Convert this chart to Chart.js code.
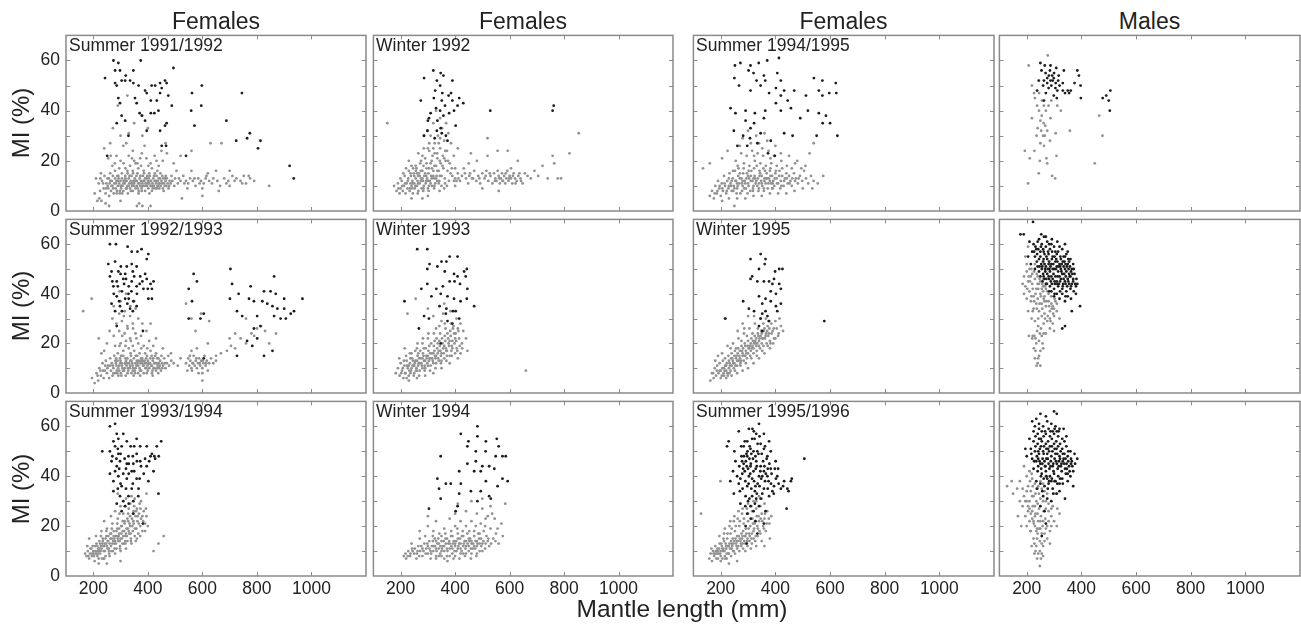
<!DOCTYPE html>
<html>
<head>
<meta charset="utf-8">
<script src="https://cdn.jsdelivr.net/npm/chart.js@4.4.1/dist/chart.umd.min.js"></script>
<style>
  body { margin: 0; background: #fff; }
  #fig { position: relative; width: 1301px; height: 627px; overflow: hidden;
         font-family: "Liberation Sans", Arial, sans-serif; color: #222; }
  #fig canvas { position: absolute; }
  .txt { position: absolute; white-space: nowrap; line-height: 1; }
</style>
</head>
<body>
<div id="fig"></div>
<script>
'use strict';

/* ─── Data (mantle length mm, MI %) ─── */
const columnTitles = ['Females', 'Females', 'Females', 'Males'];
const panelLabels = [
  'Summer 1991/1992', 'Winter 1992', 'Summer 1994/1995', '',
  'Summer 1992/1993', 'Winter 1993', 'Winter 1995', '',
  'Summer 1993/1994', 'Winter 1994', 'Summer 1995/1996', ''
];
const xTicks = [200, 400, 600, 800, 1000];
const yTicks = [0, 20, 40, 60];
const yMinorTicks = [10, 20, 30, 40, 50, 60];

const s9192Black = [[243,53],[274,60],[280,56],[292,59],[298,56],[280,51],[286,50],[304,52],[317,52],[319,54],[347,56],[292,45],[298,43],[304,38],[286,35],[317,36],[329,30],[353,45],[359,43],[370,39],[378,38],[335,52],[347,51],[374,60],[366,50],[390,48],[396,47],[414,50],[427,50],[445,51],[451,49],[411,44],[433,44],[439,40],[424,39],[445,47],[463,52],[469,51],[475,46],[488,42],[494,57],[469,35],[463,34],[451,26],[445,32],[390,36],[396,32],[411,39],[562,47],[559,40],[571,34],[598,50],[596,42],[688,36],[724,28],[745,47],[764,29],[774,31],[804,25],[813,28],[920,18],[935,13],[251,22],[540,22],[467,26]];
const s9192Gray = [[232,12],[238,9],[241,14],[245,7],[248,11],[252,13],[255,9],[258,6],[260,11],[262,15],[265,8],[268,12],[270,10],[272,14],[275,7],[277,11],[280,13],[282,9],[285,12],[287,8],[290,10],[292,14],[295,11],[297,7],[300,12],[302,9],[305,13],[307,10],[310,8],[312,12],[315,11],[317,14],[320,9],[322,12],[325,10],[327,7],[330,13],[332,11],[335,9],[337,12],[340,14],[342,10],[345,8],[347,12],[350,11],[352,13],[355,9],[357,12],[360,10],[362,15],[365,11],[367,8],[370,13],[372,10],[375,12],[377,9],[380,11],[382,14],[385,10],[387,12],[390,8],[392,11],[395,13],[397,10],[400,12],[402,9],[405,11],[407,14],[410,10],[412,12],[415,8],[417,11],[420,13],[422,10],[425,12],[427,9],[430,11],[432,14],[435,10],[437,12],[440,11],[442,9],[445,13],[447,10],[450,12],[452,11],[455,9],[457,13],[460,11],[462,10],[465,12],[468,10],[470,13],[473,11],[476,9],[480,12],[484,11],[290,12],[300,10],[310,11],[320,12],[330,10],[340,11],[350,10],[360,12],[370,11],[380,10],[390,13],[400,11],[410,12],[420,10],[430,12],[440,13],[305,15],[325,16],[345,16],[365,17],[385,16],[405,15],[280,16],[295,17],[335,18],[355,19],[375,18],[415,17],[435,16],[490,12],[500,13],[510,11],[520,12],[530,14],[540,12],[548,11],[555,13],[565,12],[575,10],[585,13],[595,12],[605,11],[615,14],[625,12],[640,13],[655,12],[665,10],[680,13],[695,12],[710,14],[725,13],[740,12],[752,14],[760,11],[775,13],[790,12],[545,9],[600,9],[660,8],[700,10],[845,10],[505,16],[560,16],[620,15],[650,16],[700,16],[240,25],[255,21],[262,27],[270,18],[285,22],[300,20],[310,26],[318,17],[330,22],[345,24],[350,20],[362,19],[378,23],[395,21],[410,19],[425,22],[440,18],[455,20],[465,27],[380,30],[330,31],[300,30],[272,33],[520,22],[560,24],[630,27],[670,27],[470,23],[495,19],[350,35],[400,33],[380,38],[290,42],[325,46],[215,4],[222,5],[230,4],[245,3],[258,2],[300,4],[360,2],[368,3],[380,2],[410,2],[600,6],[525,5],[210,13],[220,11],[225,8],[205,7],[228,15],[253,10],[263,12],[273,9],[283,11],[293,13],[303,10],[313,12],[323,9],[333,14],[343,11],[353,12],[363,9],[373,14],[383,12],[393,10],[403,13],[413,10],[423,14],[433,9],[443,11],[453,14],[463,13],[478,10],[257,13],[267,10],[288,14],[298,8],[318,13],[338,8],[358,14],[378,8],[398,14],[418,9],[438,10],[458,8],[247,9],[236,11],[226,13],[286,7],[306,7],[326,15],[346,15],[366,7],[386,15],[406,7],[426,15],[446,15],[466,14],[487,14],[497,10],[514,13],[534,11],[571,13],[590,11],[612,13],[635,11],[688,11],[718,12],[746,11],[770,14],[279,19],[311,19],[342,21],[372,21],[402,18],[432,20],[264,22],[321,27],[388,26],[450,24]];

const w92Black = [[320,56],[347,55],[357,54],[286,53],[333,52],[390,52],[274,44],[327,48],[345,50],[376,46],[385,47],[415,45],[430,43],[322,45],[351,44],[363,42],[330,41],[345,40],[310,39],[396,40],[378,39],[357,38],[300,36],[335,36],[402,34],[347,33],[298,32],[351,31],[286,30],[325,29],[372,28],[529,40],[758,40],[762,42],[353,47],[304,37],[333,32],[366,30],[390,44],[409,42]];
const w92Gray = [[176,10],[185,8],[190,11],[196,7],[200,9],[204,12],[208,8],[212,10],[215,14],[218,7],[222,11],[225,9],[228,13],[230,16],[233,8],[236,11],[238,14],[240,10],[243,12],[245,7],[248,15],[250,11],[252,9],[255,13],[258,17],[260,10],[262,12],[265,8],[267,15],[270,11],[272,19],[275,13],[277,9],[280,16],[282,12],[285,10],[287,14],[290,21],[292,11],[295,17],[297,13],[300,9],[302,15],[305,24],[307,12],[310,19],[312,14],[315,10],[317,22],[320,16],[322,13],[325,27],[327,11],[330,18],[332,14],[335,21],[337,30],[340,16],[342,12],[345,25],[347,19],[350,14],[352,33],[355,22],[357,17],[360,28],[362,13],[365,20],[367,35],[370,24],[372,16],[375,31],[377,12],[380,19],[385,27],[390,14],[395,22],[400,17],[405,12],[410,25],[250,14],[260,15],[270,14],[280,13],[290,15],[300,12],[310,11],[320,14],[330,13],[340,11],[255,18],[275,20],[295,19],[315,17],[335,16],[265,23],[285,25],[305,27],[325,23],[345,29],[300,32],[320,35],[345,37],[330,40],[310,30],[240,18],[230,20],[220,17],[210,15],[285,30],[350,10],[360,9],[370,10],[300,6],[280,5],[400,10],[240,5],[400,13],[410,15],[418,12],[425,14],[432,17],[440,13],[448,11],[455,15],[462,13],[470,16],[478,12],[485,14],[492,11],[500,15],[508,13],[515,16],[522,12],[530,14],[537,11],[543,15],[548,13],[552,12],[556,16],[560,14],[564,11],[568,13],[572,15],[576,12],[580,14],[584,11],[588,13],[592,16],[596,12],[600,14],[605,13],[610,11],[615,15],[620,13],[626,12],[632,14],[640,13],[648,11],[656,15],[666,14],[678,13],[691,16],[705,14],[721,18],[740,13],[758,22],[764,19],[777,13],[789,13],[820,23],[854,31],[458,23],[519,22],[556,24],[593,24],[630,20],[605,17],[642,12],[480,20],[500,9],[560,8],[450,19],[519,29],[151,35],[226,12],[234,9],[244,11],[254,10],[264,11],[274,12],[284,9],[294,12],[304,10],[314,13],[324,10],[334,12],[344,14],[264,14],[274,16],[284,18],[294,14],[304,17],[314,20],[324,18],[334,23],[344,20],[354,18],[364,24],[256,16],[246,17],[236,15],[216,11],[206,10],[199,13],[192,9],[280,22],[300,25],[320,25],[340,27],[360,21],[374,20],[388,17],[243,9],[263,7],[283,8],[303,8],[323,9],[343,8],[363,11],[383,15],[396,12],[412,13],[436,15],[452,14],[466,13],[489,13],[512,14],[527,15],[546,12],[562,13],[574,12],[586,15],[598,13],[612,14],[622,11],[636,15]];

const s9495Black = [[272,59],[252,58],[309,58],[339,59],[370,60],[413,61],[302,56],[320,55],[358,54],[331,52],[363,52],[407,55],[420,52],[402,49],[432,48],[250,53],[267,50],[309,48],[346,50],[377,47],[420,46],[445,44],[469,48],[512,46],[541,53],[572,52],[621,51],[559,48],[572,46],[597,47],[623,47],[519,40],[559,39],[585,38],[573,35],[600,35],[627,30],[236,41],[254,39],[291,40],[325,39],[363,40],[420,40],[291,36],[322,35],[358,37],[309,33],[346,31],[248,32],[282,30],[307,29],[261,26],[334,27],[383,28],[432,31],[463,30],[491,37],[551,30],[373,23],[398,22],[297,26],[402,43],[457,41]];
const s9495Gray = [[160,6],[168,8],[175,5],[180,10],[186,7],[190,12],[195,9],[200,6],[204,11],[208,8],[212,14],[216,10],[220,7],[224,12],[228,9],[232,15],[236,11],[240,8],[244,13],[248,10],[252,16],[256,12],[260,9],[264,14],[268,11],[272,7],[276,13],[280,10],[284,17],[288,12],[292,9],[296,15],[300,11],[304,13],[308,8],[312,16],[316,12],[320,10],[324,14],[328,11],[332,18],[336,13],[340,9],[344,15],[348,12],[352,10],[356,17],[360,13],[364,11],[368,15],[372,9],[376,13],[380,16],[384,11],[388,14],[392,12],[396,10],[400,15],[405,13],[410,11],[415,16],[420,12],[425,14],[430,10],[435,13],[440,15],[445,11],[450,14],[455,12],[460,10],[468,15],[475,13],[482,11],[490,14],[498,12],[505,16],[512,13],[520,11],[530,14],[540,12],[555,11],[575,14],[535,9],[500,9],[470,8],[440,7],[410,7],[380,7],[350,6],[320,6],[290,5],[260,5],[230,5],[205,4],[250,2],[230,10],[240,12],[250,9],[260,11],[270,13],[280,12],[290,11],[300,14],[310,12],[320,13],[330,12],[340,11],[350,14],[360,12],[370,13],[380,12],[390,11],[245,16],[265,17],[285,19],[305,18],[325,20],[345,19],[365,18],[385,19],[405,18],[425,17],[295,22],[315,24],[335,23],[355,22],[375,24],[395,22],[255,20],[275,23],[310,27],[340,27],[370,28],[400,26],[420,23],[450,22],[480,20],[510,18],[525,23],[540,27],[360,31],[330,30],[300,32],[280,29],[270,26],[135,17],[160,19],[205,21],[225,24],[460,17],[495,17],[206,9],[214,11],[222,8],[230,13],[238,10],[246,8],[254,12],[262,10],[270,15],[278,11],[286,9],[294,13],[302,10],[310,14],[318,9],[326,13],[334,10],[342,14],[350,11],[358,9],[366,13],[374,11],[382,14],[390,9],[398,13],[406,11],[414,14],[422,10],[432,12],[442,13],[452,11],[462,13],[472,12],[485,13],[262,18],[282,15],[302,16],[322,17],[342,16],[362,16],[382,17],[402,16],[422,20],[442,18],[472,19],[322,22],[352,25],[382,21],[258,7],[278,8],[298,7],[318,8],[338,8],[358,8],[388,9],[418,9],[196,10],[188,8],[178,7]];

const m1Black = [[250,59],[266,58],[287,58],[308,57],[336,56],[269,55],[293,54],[263,52],[281,54],[299,53],[317,54],[244,52],[275,51],[287,52],[306,51],[332,51],[391,54],[397,50],[312,48],[332,48],[361,48],[355,47],[238,48],[299,46],[398,45],[478,45],[491,46],[506,48],[500,44],[504,40],[263,44],[290,50],[280,49],[300,55],[320,50],[285,56],[275,53],[305,49],[260,50],[315,52],[340,47],[350,48],[270,47],[310,45],[295,52],[375,51],[385,56],[254,56]];
const m1Gray = [[207,58],[219,50],[227,47],[256,44],[238,42],[263,42],[219,37],[250,36],[287,37],[268,34],[325,40],[253,32],[266,30],[275,32],[306,31],[358,32],[312,42],[193,24],[228,24],[211,21],[248,20],[272,21],[309,22],[244,15],[293,14],[304,13],[205,11],[449,19],[477,30],[465,38],[263,26],[260,30],[275,19],[277,62],[245,47],[255,38],[230,45],[290,44],[270,40],[240,33],[250,27],[285,28],[262,35],[245,40],[280,42],[236,30]];

const s9293Black = [[261,60],[283,60],[326,59],[341,57],[362,57],[377,58],[396,54],[402,56],[255,52],[280,53],[301,51],[323,51],[341,52],[359,51],[267,49],[292,49],[317,48],[345,49],[372,47],[396,46],[421,45],[261,47],[286,45],[313,44],[341,45],[359,43],[384,42],[415,42],[274,43],[305,41],[329,40],[286,39],[317,38],[347,37],[267,36],[298,35],[335,34],[280,33],[359,35],[286,27],[382,25],[402,38],[415,38],[568,48],[580,45],[550,42],[562,37],[593,30],[605,32],[550,30],[703,50],[709,44],[733,40],[701,38],[777,43],[771,38],[789,37],[826,41],[850,41],[863,47],[869,40],[820,37],[838,36],[857,35],[875,34],[900,38],[900,34],[924,32],[936,33],[967,38],[863,31],[887,30],[906,30],[801,31],[813,27],[789,26],[764,21],[727,33],[746,31],[783,19],[826,15],[857,17],[727,15],[801,22],[605,14],[270,45],[290,43],[310,46],[330,43],[350,47],[370,44],[390,48],[410,44],[300,48],[320,46],[340,41],[360,40],[380,45],[400,42],[275,40],[295,37],[325,36],[345,33],[305,33],[330,38]];
const s9293Gray = [[195,6],[205,4],[212,8],[218,5],[222,10],[228,7],[234,12],[238,6],[242,9],[246,13],[250,8],[254,11],[258,6],[262,14],[265,9],[268,12],[271,7],[274,10],[277,15],[280,8],[283,12],[286,9],[289,13],[292,7],[295,11],[298,14],[301,8],[304,12],[307,10],[310,15],[313,9],[316,12],[319,7],[322,11],[325,14],[328,9],[331,12],[334,10],[337,16],[340,8],[343,12],[346,10],[349,14],[352,9],[355,12],[358,11],[361,15],[364,8],[367,13],[370,10],[373,12],[376,9],[379,14],[382,11],[385,8],[388,13],[391,10],[394,12],[397,15],[400,9],[403,12],[406,10],[409,14],[412,11],[415,8],[418,13],[421,10],[424,12],[427,15],[430,9],[433,12],[436,11],[439,14],[442,10],[445,13],[448,9],[452,12],[456,11],[460,14],[465,10],[470,12],[478,11],[486,13],[495,12],[285,11],[295,9],[305,11],[315,10],[325,12],[335,11],[345,9],[355,10],[365,11],[375,13],[385,11],[395,10],[405,12],[415,11],[425,10],[300,13],[320,13],[340,13],[360,13],[380,12],[400,13],[420,14],[440,12],[290,16],[310,17],[330,18],[350,17],[370,16],[390,16],[410,17],[430,16],[280,19],[300,20],[320,21],[345,19],[365,20],[385,19],[405,21],[275,23],[295,25],[315,24],[335,22],[355,24],[375,23],[395,25],[285,28],[305,29],[325,27],[345,28],[365,30],[380,28],[295,32],[315,33],[335,31],[355,34],[275,35],[300,37],[270,30],[260,25],[250,20],[240,17],[230,16],[163,33],[194,38],[220,22],[350,37],[320,40],[410,28],[430,22],[455,18],[475,15],[485,16],[510,11],[520,14],[540,12],[545,9],[548,14],[552,11],[556,13],[560,10],[564,12],[568,15],[572,11],[576,13],[580,10],[584,12],[588,14],[592,11],[596,13],[600,10],[604,12],[608,15],[612,11],[616,13],[620,9],[625,12],[632,14],[640,12],[650,13],[560,17],[580,18],[600,8],[600,5],[620,20],[650,15],[668,16],[690,17],[705,19],[720,18],[740,22],[760,20],[780,24],[790,23],[800,26],[815,27],[830,25],[760,30],[720,24],[700,22],[845,20],[870,24],[560,30],[575,25],[540,36],[595,32],[625,29],[272,11],[281,13],[291,10],[299,12],[309,9],[318,12],[327,10],[336,13],[344,11],[353,8],[362,12],[371,9],[381,13],[390,12],[399,11],[408,12],[417,9],[426,12],[435,10],[444,11],[453,10],[462,12],[274,8],[288,8],[303,7],[326,8],[348,7],[372,7],[396,8],[418,7],[438,8],[284,14],[302,15],[318,14],[338,15],[356,15],[376,14],[394,14],[414,15],[434,14],[450,15],[262,11],[252,10],[244,11],[236,9],[226,9],[216,7],[296,19],[318,19],[338,21],[358,22],[376,18],[398,18],[420,19],[306,23],[326,26],[346,26],[312,31],[336,35],[296,41],[554,15],[566,12],[578,14],[590,12],[602,13],[614,12],[562,9],[586,8]];

const w93Black = [[261,58],[298,58],[306,52],[335,51],[350,53],[368,53],[380,55],[409,55],[362,49],[396,48],[409,47],[433,49],[443,50],[439,47],[298,44],[331,42],[355,43],[380,45],[398,45],[418,44],[445,42],[276,42],[313,39],[347,40],[372,39],[396,38],[420,37],[443,38],[214,37],[343,35],[368,34],[392,33],[402,33],[470,35],[286,31],[304,30],[366,32],[390,28],[267,26],[372,29],[415,30],[298,50],[347,20]];
const w93Gray = [[182,8],[190,10],[196,7],[200,12],[205,9],[210,6],[214,11],[218,8],[222,13],[226,10],[230,7],[234,12],[238,9],[242,14],[246,11],[250,8],[254,13],[258,10],[262,15],[266,12],[270,9],[274,14],[278,11],[282,16],[286,13],[290,10],[294,15],[298,12],[302,17],[306,14],[310,11],[314,16],[318,13],[322,19],[326,15],[330,12],[334,18],[338,14],[342,21],[346,17],[350,13],[354,20],[358,16],[362,23],[366,18],[370,15],[374,22],[378,19],[382,25],[386,17],[390,21],[394,27],[398,20],[402,24],[406,18],[410,26],[415,22],[420,28],[425,20],[430,25],[440,22],[445,17],[240,10],[250,11],[260,9],[270,12],[280,10],[290,13],[300,11],[310,14],[320,12],[330,15],[340,13],[350,16],[360,14],[370,17],[380,15],[390,18],[400,16],[260,13],[280,14],[300,15],[320,16],[340,17],[360,19],[380,21],[400,22],[230,11],[245,13],[265,16],[285,18],[305,19],[325,21],[345,24],[365,26],[385,28],[405,30],[330,26],[350,29],[300,22],[280,20],[260,18],[240,16],[220,15],[215,18],[195,14],[230,5],[260,6],[290,7],[320,8],[350,10],[380,12],[410,14],[420,16],[225,32],[255,38],[300,34],[320,31],[360,36],[383,33],[660,9],[336,20],[356,32],[208,10],[216,8],[224,11],[232,9],[236,14],[244,11],[252,12],[256,9],[264,11],[268,14],[276,12],[284,15],[288,11],[296,14],[304,13],[308,16],[316,14],[324,17],[328,14],[336,16],[344,19],[348,15],[356,18],[364,21],[368,17],[376,20],[384,23],[388,19],[396,24],[404,21],[412,25],[417,19],[272,17],[292,18],[312,20],[332,22],[352,22],[372,24],[392,26],[262,20],[282,22],[302,24],[322,24],[342,27],[362,28],[248,7],[268,7],[288,9],[308,9],[328,10],[348,12],[368,13],[388,15],[408,17],[426,18],[234,16],[254,17],[236,8],[222,6],[202,8],[212,13]];

const w95Black = [[346,56],[309,54],[364,54],[361,52],[340,50],[399,49],[414,50],[426,50],[315,47],[334,45],[358,45],[377,45],[395,46],[389,44],[414,44],[420,42],[383,41],[402,40],[340,39],[364,38],[352,36],[383,37],[402,35],[420,36],[282,37],[303,34],[322,33],[352,32],[371,31],[346,30],[377,29],[217,30],[579,29],[364,33],[340,27],[352,25],[309,46],[407,33]];
const w95Gray = [[162,5],[168,8],[174,6],[178,10],[183,7],[187,11],[192,8],[196,12],[200,9],[204,7],[208,13],[212,10],[216,14],[220,11],[224,8],[228,15],[232,12],[236,9],[240,16],[244,13],[248,10],[252,17],[256,14],[260,11],[264,18],[268,15],[272,12],[276,19],[280,16],[284,13],[288,20],[292,17],[296,14],[300,21],[304,18],[308,15],[312,22],[316,19],[320,16],[324,23],[328,20],[332,17],[336,24],[340,21],[344,18],[348,25],[352,22],[356,19],[360,26],[364,23],[368,20],[372,27],[376,24],[380,21],[385,28],[390,25],[395,22],[400,29],[405,26],[410,23],[415,30],[420,27],[428,25],[210,8],[220,9],[230,10],[240,11],[250,12],[260,13],[270,14],[280,15],[290,15],[300,16],[310,17],[320,18],[330,19],[340,19],[350,20],[230,13],[250,15],[270,17],[290,19],[310,20],[330,22],[350,24],[370,25],[200,6],[220,6],[240,7],[260,8],[280,9],[300,10],[320,12],[340,14],[360,16],[380,18],[400,22],[245,20],[265,22],[285,24],[305,26],[325,28],[345,30],[365,30],[300,31],[280,28],[262,25],[215,30],[190,15],[180,13],[205,16],[225,19],[206,10],[214,9],[222,12],[226,7],[234,11],[238,14],[246,12],[254,11],[258,15],[266,13],[274,13],[278,17],[286,15],[294,16],[298,19],[306,19],[314,18],[318,21],[326,21],[334,20],[338,23],[346,23],[354,22],[358,25],[366,24],[374,23],[378,26],[386,24],[394,26],[242,14],[262,16],[282,18],[302,18],[322,20],[342,22],[362,22],[382,20],[212,7],[232,8],[252,9],[272,11],[292,12],[312,14],[332,15],[352,17],[372,19],[392,20],[412,24],[186,9],[196,9],[216,11],[236,18],[256,18],[276,21],[296,23],[316,24],[336,26],[356,28],[374,29],[322,31],[286,26],[172,8]];

const m2Black = [[177,64],[189,64],[223,69],[253,64],[263,63],[210,61],[225,60],[240,61],[255,60],[270,59],[285,58],[300,59],[315,57],[330,58],[345,56],[235,58],[250,57],[265,56],[280,56],[295,55],[310,56],[325,54],[340,55],[355,53],[230,55],[245,54],[260,53],[275,54],[290,52],[305,53],[320,52],[335,51],[350,52],[365,50],[240,51],[255,50],[270,51],[285,49],[300,50],[315,49],[330,48],[345,49],[360,47],[375,48],[250,47],[265,46],[280,47],[295,46],[310,45],[325,46],[340,45],[355,44],[370,45],[385,44],[270,44],[285,43],[300,42],[315,43],[330,42],[345,41],[360,42],[380,40],[300,39],[320,38],[340,37],[395,35],[365,33],[340,27],[330,26],[220,57],[215,52],[205,55],[260,58],[275,61],[290,60],[245,62],[305,57],[320,59],[335,55],[350,57],[360,54],[370,52],[250,55],[265,52],[280,52],[295,50],[310,51],[325,50],[340,50],[355,48],[370,46],[230,50],[245,49],[260,48],[275,48],[290,47],[305,47],[320,47],[335,46],[350,46],[365,44],[380,43],[258,45],[273,44],[288,45],[303,44],[318,44],[333,44],[348,43],[290,41],[310,40],[330,40],[350,39],[262,54],[278,57],[293,57],[308,54],[323,55],[338,53],[353,50],[268,49],[283,50],[298,48],[313,47],[328,52],[343,47],[358,51],[238,56],[253,52],[232,59],[270,63],[292,62],[340,60],[262,57],[272,55],[282,53],[292,54],[302,55],[312,53],[322,51],[332,53],[342,52],[352,54],[362,49],[372,50],[382,46],[257,51],[267,50],[277,50],[287,51],[297,52],[307,50],[317,51],[327,49],[337,48],[347,51],[357,47],[367,48],[377,44],[262,47],[272,46],[282,46],[292,44],[302,45],[312,44],[322,45],[332,43],[342,44],[352,45],[362,43],[372,41],[242,58],[252,59],[282,60],[312,61],[227,57],[237,53],[247,51],[282,41],[302,40],[322,41],[342,39],[362,38]];
const m2Gray = [[190,47],[195,43],[200,49],[205,45],[210,41],[215,47],[220,44],[225,39],[230,46],[235,42],[240,38],[245,44],[250,40],[255,36],[260,43],[265,39],[270,35],[275,41],[280,37],[285,33],[290,39],[295,35],[300,31],[305,37],[310,33],[200,52],[210,50],[220,48],[230,52],[240,47],[250,45],[260,41],[270,42],[280,40],[290,36],[215,37],[225,34],[235,36],[245,33],[255,31],[265,32],[275,29],[285,30],[295,28],[205,33],[218,30],[230,29],[242,27],[252,26],[262,24],[220,22],[235,20],[245,21],[250,17],[260,18],[230,14],[240,12],[250,11],[228,23],[208,23],[222,23],[238,25],[255,23],[270,24],[285,26],[300,25],[320,30],[245,15],[232,17],[310,36],[190,40],[200,38],[185,44],[255,42],[195,55],[205,59],[265,37],[300,34],[240,44],[260,46],[275,44],[212,45],[222,42],[232,40],[242,42],[252,39],[262,38],[272,37],[282,35],[292,34],[302,38],[217,39],[227,37],[237,34],[247,36],[257,34],[267,30],[277,31],[287,29],[297,32],[207,47],[227,49],[247,46],[257,44],[267,43],[217,50],[237,48],[202,42],[222,33],[242,30],[262,28],[248,24],[232,22],[258,20],[226,18],[242,14],[236,11]];

const s9394Black = [[261,60],[280,61],[286,57],[292,55],[310,57],[274,54],[280,52],[304,52],[323,54],[337,52],[359,55],[372,52],[396,52],[415,49],[433,52],[449,54],[427,47],[424,48],[233,50],[261,50],[292,49],[329,48],[359,49],[267,46],[298,46],[323,45],[347,45],[372,46],[286,44],[320,43],[341,42],[396,44],[421,42],[261,41],[292,40],[323,39],[359,39],[402,38],[274,38],[304,36],[341,35],[366,35],[274,34],[298,32],[329,32],[439,33],[286,29],[317,28],[347,30],[304,26],[382,21],[347,25],[270,48],[285,47],[300,49],[315,47],[330,45],[345,48],[360,46],[375,44],[390,47],[405,46],[280,42],[295,43],[310,41],[330,41],[350,42],[370,39],[385,41],[300,37],[320,35],[345,37],[365,32],[290,35],[310,30],[330,29],[410,48],[440,48],[290,51],[350,52]];
const s9394Gray = [[170,9],[175,8],[180,10],[185,7],[190,11],[195,8],[198,12],[202,9],[205,6],[208,10],[212,13],[215,8],[218,11],[222,14],[225,9],[228,12],[232,7],[235,15],[238,10],[242,13],[245,8],[248,16],[252,11],[255,14],[258,9],[262,17],[265,12],[268,15],[272,10],[275,18],[278,13],[282,16],[285,11],[288,19],[292,14],[295,17],[298,12],[302,20],[305,15],[308,18],[312,13],[315,21],[318,16],[322,19],[325,14],[328,22],[332,17],[335,20],[338,15],[342,23],[345,18],[348,21],[352,16],[355,24],[358,19],[362,22],[365,17],[368,25],[372,20],[375,23],[380,18],[385,26],[390,21],[395,24],[400,20],[200,10],[210,9],[220,10],[230,11],[240,12],[250,12],[260,13],[270,13],[280,14],[290,15],[300,15],[310,16],[320,17],[330,18],[215,12],[225,13],[235,14],[245,15],[255,16],[265,17],[275,16],[285,18],[295,19],[305,20],[315,22],[325,23],[335,24],[345,25],[220,7],[240,7],[260,8],[280,9],[300,10],[320,11],[340,13],[360,15],[250,19],[270,21],[290,23],[310,25],[330,27],[350,28],[370,29],[300,28],[320,31],[340,32],[280,26],[240,22],[230,18],[210,16],[185,15],[220,5],[250,5],[300,6],[458,16],[439,13],[421,10],[375,30],[395,33],[290,33],[265,24],[360,27],[380,24],[203,8],[207,12],[213,10],[217,9],[223,11],[227,10],[233,13],[237,12],[243,10],[247,13],[253,14],[257,11],[263,15],[267,10],[273,14],[277,15],[283,13],[287,16],[293,16],[297,14],[303,17],[307,13],[313,18],[317,14],[323,16],[327,19],[333,21],[337,17],[343,20],[347,22],[353,19],[357,26],[363,24],[367,21],[373,27],[383,22],[393,27],[196,9],[188,9],[182,8],[193,11],[178,12],[228,16],[248,18],[268,19],[288,21],[308,22],[328,25],[348,26],[238,7],[258,10],[278,11],[298,11],[318,13],[338,14],[356,14],[372,16],[390,18],[296,25],[316,28],[336,29],[352,31]];

const w94Black = [[482,60],[421,57],[449,54],[482,56],[513,54],[553,55],[560,52],[347,48],[445,52],[476,50],[512,50],[549,48],[574,48],[586,48],[445,45],[476,46],[500,44],[525,44],[415,42],[470,42],[494,42],[544,43],[574,39],[593,38],[335,39],[366,37],[384,37],[421,37],[513,38],[341,35],[458,34],[494,34],[525,32],[556,36],[347,31],[415,33],[304,27],[409,28],[402,26],[482,30],[531,31]];
const w94Gray = [[212,8],[220,7],[228,10],[235,8],[242,11],[250,9],[258,7],[265,12],[272,10],[280,8],[287,13],[294,11],[300,9],[305,14],[310,7],[315,12],[320,10],[325,15],[330,8],[335,13],[340,11],[345,9],[350,14],[355,12],[360,10],[365,15],[370,8],[375,13],[380,11],[385,16],[390,9],[395,14],[400,12],[405,10],[410,15],[415,13],[420,11],[425,16],[430,9],[435,14],[440,12],[445,17],[450,10],[455,15],[460,13],[465,11],[470,16],[475,14],[480,12],[485,17],[490,10],[495,15],[500,13],[505,18],[510,11],[515,16],[520,14],[525,12],[530,19],[540,15],[550,17],[560,13],[570,21],[575,16],[310,10],[320,12],[330,11],[340,13],[350,10],[360,12],[370,11],[380,13],[390,11],[400,13],[410,11],[420,13],[430,12],[440,14],[450,12],[460,14],[470,12],[480,14],[490,13],[330,14],[350,16],[370,15],[390,16],[410,17],[430,16],[450,15],[470,18],[490,17],[510,20],[340,8],[360,7],[380,8],[400,8],[420,9],[440,9],[460,9],[480,9],[500,10],[300,12],[280,11],[260,9],[240,13],[270,15],[290,16],[300,20],[320,18],[360,19],[400,20],[420,22],[440,20],[460,22],[480,25],[500,27],[520,24],[530,28],[545,23],[460,30],[440,26],[400,25],[380,23],[330,22],[300,24],[270,18],[584,29],[410,29],[500,31],[252,11],[262,10],[268,8],[276,12],[284,10],[292,9],[298,13],[306,11],[312,9],[318,14],[326,12],[332,10],[338,15],[346,12],[352,11],[358,14],[366,13],[372,10],[378,14],[386,12],[392,13],[398,10],[404,14],[412,12],[418,15],[424,10],[432,13],[438,11],[446,13],[452,14],[458,11],[466,13],[474,11],[482,13],[488,15],[496,12],[504,14],[512,13],[522,15],[532,13],[548,14],[318,16],[342,17],[364,17],[386,18],[408,19],[428,18],[452,18],[476,20],[494,21],[512,23],[536,25],[556,19],[330,7],[350,8],[372,6],[394,7],[416,7],[436,8],[458,7],[478,8],[244,10],[236,9],[226,8],[218,9]];

const s9596Black = [[340,61],[303,59],[321,58],[266,58],[358,57],[229,54],[297,54],[315,55],[346,53],[377,54],[223,52],[284,52],[309,51],[334,50],[358,51],[383,50],[294,49],[297,48],[327,48],[371,48],[401,46],[506,47],[254,46],[284,45],[309,44],[346,44],[383,43],[245,42],[279,41],[303,40],[340,40],[371,40],[407,40],[432,38],[457,38],[444,35],[235,38],[266,37],[297,36],[327,36],[358,35],[389,34],[248,33],[291,32],[315,32],[346,31],[377,32],[441,27],[272,29],[309,28],[340,28],[364,26],[297,25],[327,22],[358,21],[291,20],[334,17],[295,13],[310,45],[320,42],[330,46],[290,38],[300,43],[315,39],[325,34],[335,37],[345,42],[355,46],[365,41],[375,38],[285,48],[295,44],[305,47],[320,50],[335,53],[350,49],[360,44],[330,31],[300,30],[320,26],[310,23],[280,35],[260,40],[250,50],[275,52],[395,36],[410,43],[420,35],[268,44],[278,46],[288,42],[298,50],[308,41],[318,47],[328,43],[338,49],[348,39],[358,42],[368,47],[378,45],[386,41],[398,43],[272,39],[282,43],[292,46],[302,37],[312,49],[322,38],[332,44],[342,36],[352,40],[362,38],[372,43],[384,37],[402,39],[288,54],[306,52],[324,55],[342,56],[362,52],[276,48],[316,59],[330,57],[270,34],[290,28],[312,35],[332,33],[352,33],[372,35],[394,33],[412,37],[428,36],[448,34],[460,39],[305,31],[325,29]];
const s9596Gray = [[158,7],[163,9],[168,6],[172,10],[176,8],[180,12],[184,7],[188,11],[192,9],[196,13],[200,8],[204,12],[208,10],[212,14],[216,7],[220,11],[224,15],[228,9],[232,13],[236,17],[240,11],[244,15],[248,10],[252,18],[256,13],[260,16],[264,12],[268,20],[272,14],[276,17],[280,13],[284,21],[288,16],[292,19],[296,14],[300,22],[304,17],[308,20],[312,15],[316,23],[320,18],[324,21],[328,16],[332,24],[336,19],[340,22],[345,17],[350,25],[355,20],[360,23],[365,18],[370,26],[378,21],[385,24],[180,9],[190,10],[200,10],[210,11],[220,12],[230,12],[240,13],[250,14],[260,14],[270,15],[280,16],[290,16],[200,6],[215,8],[230,9],[245,10],[260,11],[275,12],[290,13],[305,14],[320,15],[335,16],[210,15],[225,17],[240,19],[255,20],[270,22],[285,23],[300,25],[315,26],[330,27],[345,28],[360,29],[230,5],[260,6],[195,16],[215,19],[235,22],[250,24],[265,26],[280,27],[300,29],[320,30],[340,32],[290,10],[310,11],[330,12],[350,14],[199,38],[128,25],[380,15],[360,12],[182,10],[186,9],[194,11],[198,9],[202,13],[206,11],[214,10],[218,13],[222,9],[226,12],[234,11],[238,14],[242,12],[246,13],[254,15],[258,12],[262,14],[266,16],[274,13],[278,15],[282,18],[286,14],[294,17],[298,15],[302,19],[306,16],[314,17],[318,21],[322,19],[326,22],[334,20],[338,24],[346,23],[352,22],[362,25],[368,21],[376,23],[206,7],[222,7],[238,8],[252,9],[268,10],[282,11],[298,12],[314,13],[326,14],[342,18],[358,19],[212,17],[232,20],[248,22],[262,23],[278,25],[296,27],[312,28],[330,30],[350,31],[190,7],[174,9],[166,11]];

const m3Black = [[250,65],[270,64],[300,66],[310,65],[220,62],[235,63],[245,61],[260,60],[275,62],[290,61],[305,60],[320,59],[335,59],[225,58],[240,57],[255,58],[270,57],[285,56],[300,57],[315,56],[330,55],[345,56],[210,55],[225,54],[240,53],[255,54],[270,53],[285,52],[300,53],[315,52],[330,51],[345,52],[360,50],[215,51],[230,50],[245,49],[260,50],[275,49],[290,48],[305,49],[320,48],[335,47],[350,48],[365,46],[375,49],[200,48],[220,47],[235,46],[250,45],[265,46],[280,45],[295,44],[310,45],[325,44],[340,43],[355,44],[370,42],[225,43],[240,42],[255,41],[270,42],[285,40],[300,41],[315,40],[330,39],[350,38],[235,38],[250,37],[265,36],[280,37],[295,35],[310,33],[320,34],[340,31],[260,32],[275,31],[290,30],[250,28],[265,26],[270,21],[255,16],[245,55],[262,56],[278,54],[292,55],[308,54],[322,53],[338,54],[232,56],[248,51],[263,52],[278,51],[294,50],[309,51],[324,50],[338,49],[352,50],[242,47],[258,47],[272,47],[288,46],[302,47],[318,46],[332,46],[346,45],[362,45],[253,43],[268,44],[283,43],[298,42],[313,43],[328,42],[343,41],[360,40],[275,39],[290,38],[305,38],[320,37],[245,59],[280,59],[295,58],[310,58],[230,60],[350,41],[370,36],[385,47],[195,51],[232,52],[242,50],[252,52],[262,49],[272,51],[282,50],[292,52],[302,51],[312,49],[322,47],[332,49],[342,47],[352,46],[362,47],[237,48],[247,46],[257,45],[267,44],[277,47],[287,44],[297,45],[307,46],[317,44],[327,45],[337,45],[347,43],[357,42],[367,44],[377,45],[227,46],[252,40],[262,39],[272,40],[282,38],[292,39],[302,38],[312,37],[322,39],[332,37],[242,44],[252,55],[267,58],[287,58],[302,59],[317,58],[237,35],[257,34],[277,35],[297,33],[217,49]];
const m3Gray = [[128,36],[145,38],[150,33],[165,35],[175,30],[185,28],[190,32],[195,24],[200,20],[205,26],[210,30],[215,18],[220,23],[222,28],[225,15],[230,20],[232,25],[235,12],[240,17],[242,22],[245,27],[248,10],[250,19],[252,24],[255,13],[258,20],[260,8],[262,26],[265,17],[268,23],[270,30],[275,20],[280,26],[285,18],[290,24],[295,28],[300,22],[305,33],[312,27],[320,25],[210,22],[218,12],[228,9],[238,7],[248,4],[255,9],[200,40],[205,36],[215,34],[225,32],[235,30],[245,33],[255,35],[265,34],[275,33],[210,42],[220,39],[230,37],[240,35],[250,38],[190,44],[200,30],[218,41],[270,40],[260,37],[230,46],[213,18],[226,21],[238,19],[275,15],[285,13],[168,24],[180,20],[310,20],[220,32],[230,28],[240,29],[250,31],[260,30],[270,27],[280,29],[290,27],[210,27],[220,26],[230,24],[240,25],[250,22],[260,22],[270,19],[280,22],[290,20],[215,25],[225,22],[235,18],[245,19],[255,17],[265,14],[228,13],[238,15],[248,14],[232,10],[242,9],[252,7],[260,12],[205,28],[195,30],[185,35],[175,38],[200,34],[212,38],[222,36],[232,33],[242,36]];

/* panels in reading order: [black, gray] */
const panelSeries = [
  [s9192Black, s9192Gray], [w92Black, w92Gray], [s9495Black, s9495Gray], [m1Black, m1Gray],
  [s9293Black, s9293Gray], [w93Black, w93Gray], [w95Black, w95Gray], [m2Black, m2Gray],
  [s9394Black, s9394Gray], [w94Black, w94Gray], [s9596Black, s9596Gray], [m3Black, m3Gray]
];

/* ─── Layout ─── */
const FONT = '"Liberation Sans", Arial, sans-serif';
const colLeft  = [66, 373, 693, 999];
const colWidth = [300, 300, 301, 301];
const rowTop    = [35, 219, 401];
const rowBottom = [211, 393, 576];
const fig = document.getElementById('fig');

function addText(text, css) {
  const d = document.createElement('div');
  d.className = 'txt';
  d.textContent = text;
  Object.assign(d.style, css);
  fig.appendChild(d);
  return d;
}

/* frame + inward tick marks on all four sides */
const framePlugin = {
  id: 'frame',
  afterDatasetsDraw(chart) {
    const { ctx, chartArea: a, scales: { x, y } } = chart;
    ctx.save();
    ctx.strokeStyle = '#8a8a8a';
    ctx.lineWidth = 1.5;
    ctx.strokeRect(a.left, a.top, a.right - a.left, a.bottom - a.top);
    ctx.lineWidth = 1;
    ctx.beginPath();
    xTicks.forEach(v => {
      const px = Math.round(x.getPixelForValue(v)) + 0.5;
      ctx.moveTo(px, a.bottom); ctx.lineTo(px, a.bottom - 4);
      ctx.moveTo(px, a.top);    ctx.lineTo(px, a.top + 4);
    });
    yMinorTicks.forEach(v => {
      const py = Math.round(y.getPixelForValue(v)) + 0.5;
      ctx.moveTo(a.left, py);  ctx.lineTo(a.left + 4, py);
      ctx.moveTo(a.right, py); ctx.lineTo(a.right - 4, py);
    });
    ctx.stroke();
    ctx.restore();
  }
};

function makePanel(i) {
  const r = Math.floor(i / 4), c = i % 4;
  const L = colLeft[c], T = rowTop[r], W = colWidth[c], H = rowBottom[r] - T;
  const yW = c === 0 ? 44 : 0;
  const xH = r === 2 ? 30 : 0;
  const padBottom = r === 2 ? 0 : 12;

  const cv = document.createElement('canvas');
  const cw = W + 1 + yW + 2;
  const ch = H + 1 + xH + padBottom;
  cv.width = cw; cv.height = ch;
  cv.style.width = cw + 'px'; cv.style.height = ch + 'px';
  cv.style.left = (L - 1 - yW) + 'px';
  cv.style.top = (T - 1) + 'px';
  fig.appendChild(cv);

  const [black, gray] = panelSeries[i];
  new Chart(cv, {
    type: 'scatter',
    data: {
      datasets: [
        { data: black, backgroundColor: '#1c1c1c' },
        { data: gray,  backgroundColor: '#929292' }
      ]
    },
    options: {
      responsive: false,
      animation: false,
      events: [],
      layout: { padding: { top: 1, right: 2, left: 1, bottom: padBottom } },
      elements: { point: { radius: 1.4, borderWidth: 0, hoverRadius: 1.4 } },
      plugins: { legend: { display: false }, tooltip: { enabled: false } },
      scales: {
        x: {
          type: 'linear', min: 100, max: 1200,
          display: r === 2,
          afterBuildTicks: s => { s.ticks = xTicks.map(value => ({ value })); },
          afterFit: s => { s.height = xH; s.paddingLeft = 0; s.paddingRight = 0; },
          grid: { display: false, drawTicks: false },
          border: { display: false },
          ticks: {
            autoSkip: false, maxRotation: 0, padding: 3, color: '#222',
            font: { family: FONT, size: 17.5 },
            callback: v => String(v)
          }
        },
        y: {
          type: 'linear', min: 0, max: 70,
          display: c === 0,
          afterBuildTicks: s => { s.ticks = yTicks.map(value => ({ value })); },
          afterFit: s => { s.width = yW; s.paddingTop = 0; s.paddingBottom = 0; },
          grid: { display: false, drawTicks: false },
          border: { display: false },
          ticks: {
            padding: 6, color: '#222',
            font: { family: FONT, size: 17.5 },
            callback: v => String(v)
          }
        }
      }
    },
    plugins: [framePlugin]
  });

  if (panelLabels[i]) {
    addText(panelLabels[i], { left: (L + 3) + 'px', top: (T + 2) + 'px', fontSize: '17.5px' });
  }
}

for (let i = 0; i < 12; i++) makePanel(i);

/* ─── Titles and axis labels ─── */
columnTitles.forEach((t, c) => {
  const d = addText(t, { top: '10px', fontSize: '23px' });
  d.style.left = (colLeft[c] + colWidth[c] / 2) + 'px';
  d.style.transform = 'translateX(-50%)';
});

rowTop.forEach((t, r) => {
  const d = addText('MI (%)', { left: '21px', top: ((t + rowBottom[r]) / 2) + 'px', fontSize: '24px' });
  d.style.transform = 'translate(-50%, -50%) rotate(-90deg)';
});

const xl = addText('Mantle length (mm)', { left: '682px', top: '597px', fontSize: '24.5px' });
xl.style.transform = 'translateX(-50%)';
</script>
</body>
</html>
